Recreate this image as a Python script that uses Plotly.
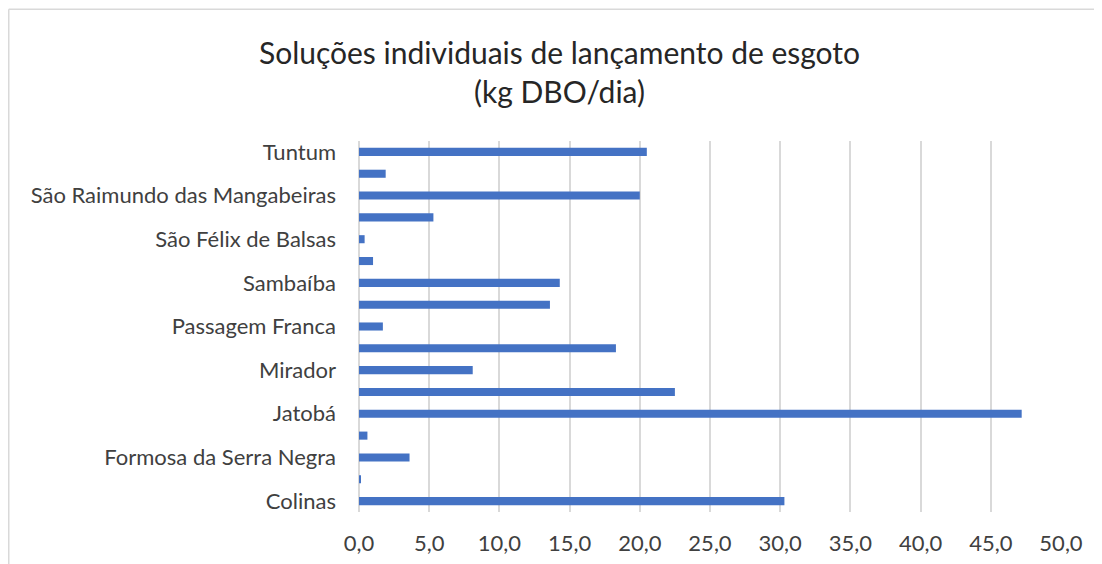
import plotly.graph_objects as go

municipios = [
    "Colinas", "Fernando Falcão", "Formosa da Serra Negra", "Fortaleza dos Nogueiras",
    "Jatobá", "Lagoa do Mato", "Mirador", "Nova Iorque", "Passagem Franca", "Riachão",
    "Sambaíba", "São Domingos do Azeitão", "São Félix de Balsas", "São João dos Patos",
    "São Raimundo das Mangabeiras", "Sucupira do Norte", "Tuntum",
]
carga_kg_dbo_dia = [30.3, 0.1, 3.6, 0.6, 47.2, 22.5, 8.1, 18.3, 1.7, 13.6,
                    14.3, 1.0, 0.4, 5.3, 20.0, 1.9, 20.5]
rotulos_visiveis = municipios[0::2]
x_ticks = [0, 5, 10, 15, 20, 25, 30, 35, 40, 45, 50]

# The page body has an 8px margin, so the figure is sized/offset to compensate
OFF = 8
W, H = 1102 - OFF, 564 - OFF
L = 359 - OFF
R = W - (1061 - OFF)
T = 141 - OFF
B = H - (512 - OFF)

fig = go.Figure(go.Bar(
    y=municipios, x=carga_kg_dbo_dia, orientation="h",
    marker=dict(color="#4472C4", line=dict(width=0)),
))

fig.update_layout(
    width=W, height=H,
    margin=dict(l=L, r=R, t=T, b=B, autoexpand=False),
    paper_bgcolor="white", plot_bgcolor="white",
    separators=",.",
    bargap=0.63,
    showlegend=False,
    font=dict(family="Lato", color="#404040"),
    title=dict(
        text="Soluções individuais de lançamento de esgoto<br>(kg DBO/dia)",
        x=(559.5 - OFF) / W, xanchor="center", xref="container",
        y=1 - (64 - OFF) / H, yanchor="middle", yref="container",
        font=dict(family="Lato", size=30, color="#262626"),
    ),
    xaxis=dict(
        range=[0, 50], tickmode="array", tickvals=x_ticks, tickformat=".1f",
        showgrid=True, gridcolor="#d9d9d9", gridwidth=1.5,
        zeroline=True, zerolinecolor="#d9d9d9", zerolinewidth=1.5,
        showline=False, ticks="", tickfont=dict(size=22, color="#404040"),
        ticklabelstandoff=16,
    ),
    yaxis=dict(
        type="category", tickmode="array", tickvals=rotulos_visiveis,
        ticktext=rotulos_visiveis, showgrid=False, showline=False, ticks="",
        tickfont=dict(size=22, color="#404040"), ticklabelstandoff=22,
        range=[-0.5, len(municipios) - 0.5],
    ),
)

# Chart-area border (light gray) along the top and left edges
px2x = lambda px: (px - L) / (W - L - R)
py2y = lambda py: 1 - (py - T) / (H - T - B)
border = dict(color="#d9d9d9", width=1.5)
fig.add_shape(type="line", xref="paper", yref="paper",
              x0=px2x(0.75), x1=px2x(0.75), y0=py2y(1.25), y1=py2y(H + 10), line=border)
fig.add_shape(type="line", xref="paper", yref="paper",
              x0=px2x(0.75), x1=px2x(W + 10), y0=py2y(1.25), y1=py2y(1.25), line=border)

fig.write_html("out.html")
